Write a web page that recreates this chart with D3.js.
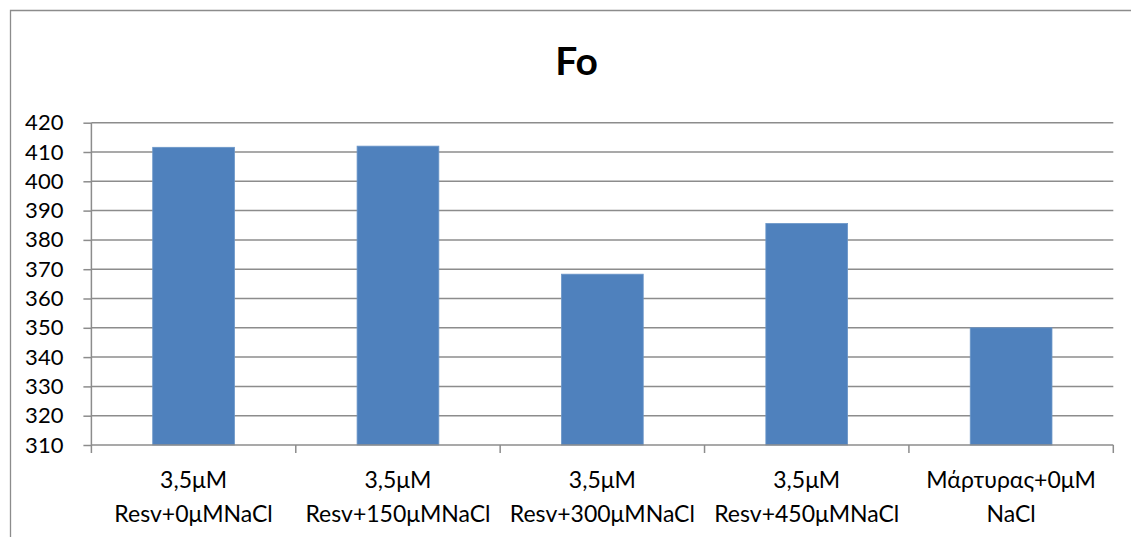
<!DOCTYPE html>
<html>
<head>
<meta charset="utf-8">
<script src="https://cdn.jsdelivr.net/npm/d3@7"></script>
<style>
  html, body { margin: 0; padding: 0; background: #fff; overflow: hidden; }
  svg { display: block; font-family: Lato, "Open Sans", sans-serif; }
</style>
</head>
<body>
<figure id="bar" style="margin:0"></figure>
<script>
// data
const categories = [
  ["3,5μM", "Resv+0μMNaCl"],
  ["3,5μM", "Resv+150μMNaCl"],
  ["3,5μM", "Resv+300μMNaCl"],
  ["3,5μM", "Resv+450μMNaCl"],
  ["Μάρτυρας+0μM", "NaCl"]
];
const values = [411.6, 412.0, 368.3, 385.6, 350.0];
const yTicks = [310, 320, 330, 340, 350, 360, 370, 380, 390, 400, 410, 420];
const title = "Fo";

const W = 1131, H = 537;
const margin = { top: 122.7, right: 17.7, bottom: 92, left: 91.4 };
const width = W - margin.left - margin.right;
const height = H - margin.top - margin.bottom;

const svg = d3.select("figure#bar")
  .append("svg")
  .attr("width", W)
  .attr("height", H);

// outer chart border: only top and left edges fall inside the picture
svg.append("path")
  .attr("d", "M10.5," + H + "V10.5H" + (W + 5))
  .attr("fill", "none")
  .attr("stroke", "#8c8c8c")
  .attr("stroke-width", 1.3);

svg.append("text")
  .attr("x", 576.5).attr("y", 75)
  .attr("text-anchor", "middle")
  .attr("font-size", 39)
  .attr("font-weight", "bold")
  .attr("fill", "#000")
  .text(title);

const g = svg.append("g")
  .attr("transform", "translate(" + margin.left + "," + margin.top + ")");

const keys = categories.map((d, i) => i);
const x = d3.scaleBand()
  .domain(keys)
  .range([0, width])
  .paddingInner(0.6)
  .paddingOuter(0.3);

const y = d3.scaleLinear()
  .domain([310, 420])
  .range([height, 0]);

// gridlines
g.append("g")
  .selectAll("line")
  .data(yTicks.filter(t => t !== 310))
  .enter()
  .append("line")
  .attr("x1", 0).attr("x2", width)
  .attr("y1", d => y(d)).attr("y2", d => y(d))
  .attr("stroke", "#8c8c8c")
  .attr("stroke-width", 1.5);

// y axis
const yAxis = g.append("g")
  .call(d3.axisLeft(y).tickValues(yTicks).tickSize(8).tickPadding(20).tickFormat(d3.format("d")));
yAxis.selectAll("line").attr("stroke", "#8c8c8c").attr("stroke-width", 1.5);
yAxis.select(".domain").attr("stroke", "#8c8c8c").attr("stroke-width", 1.5).attr("d", "M0,0V" + height);
yAxis.selectAll("text").attr("font-size", 22).attr("font-family", "Lato, sans-serif").attr("fill", "#000");

// bars
g.selectAll("rect.bar")
  .data(values)
  .enter()
  .append("rect")
  .attr("class", "bar")
  .attr("x", (d, i) => x(i))
  .attr("y", d => y(d))
  .attr("width", x.bandwidth())
  .attr("height", d => height - y(d))
  .attr("fill", "#4f81bd")
  .attr("stroke", "#6b96c8")
  .attr("stroke-width", 0.8);

// x axis: line, category boundary ticks, two-line labels
const xAxis = g.append("g").attr("transform", "translate(0," + height + ")");
xAxis.append("line")
  .attr("x1", 0).attr("x2", width)
  .attr("stroke", "#8c8c8c").attr("stroke-width", 1.5);
xAxis.selectAll("line.tick")
  .data(d3.range(categories.length + 1))
  .enter()
  .append("line")
  .attr("class", "tick")
  .attr("x1", d => d * x.step())
  .attr("x2", d => d * x.step())
  .attr("y1", 0).attr("y2", 8)
  .attr("stroke", "#8c8c8c").attr("stroke-width", 1.5);

const labels = xAxis.selectAll("text.cat")
  .data(categories)
  .enter()
  .append("text")
  .attr("class", "cat")
  .attr("text-anchor", "middle")
  .attr("font-size", 23)
  .attr("fill", "#000")
  .attr("transform", (d, i) => "translate(" + (x(i) + x.bandwidth() / 2) + ",0)");
labels.selectAll("tspan")
  .data(d => d)
  .enter()
  .append("tspan")
  .attr("x", 0)
  .attr("y", (d, j) => 43 + j * 34)
  .text(d => d);
</script>
</body>
</html>
